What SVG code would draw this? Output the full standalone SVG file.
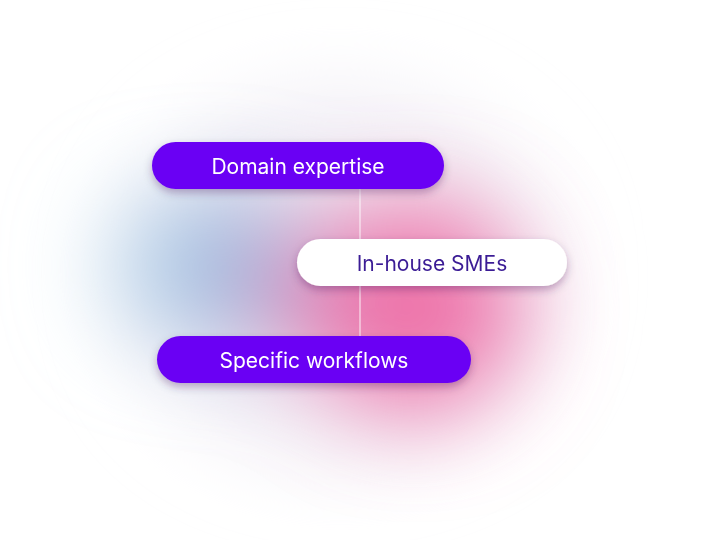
<svg xmlns="http://www.w3.org/2000/svg" width="720" height="540" viewBox="0 0 720 540">
<defs>
<filter id="blur" x="-100%" y="-100%" width="300%" height="300%">
<feGaussianBlur stdDeviation="48"/>
</filter>
<filter id="haze" x="-50%" y="-50%" width="200%" height="200%">
<feGaussianBlur stdDeviation="40"/>
</filter>
<filter id="shadow" x="-20%" y="-40%" width="140%" height="200%">
<feDropShadow dx="0" dy="4" stdDeviation="4" flood-color="#3a1050" flood-opacity="0.3"/>
</filter>
<style>
.pill{fill:#6a00f4}
.pillw{fill:#ffffff}
.t{font-family:"Inter","Liberation Sans",sans-serif;font-size:21px;font-weight:400;text-anchor:middle;dominant-baseline:central}
.tw{fill:#ffffff}
.td{fill:#3b1c95}
</style>
</defs>
<rect width="720" height="540" fill="#ffffff"/>
<g id="background">
<ellipse cx="340" cy="277" rx="215" ry="185" fill="#f1eef5" filter="url(#haze)"/>
<g filter="url(#blur)">
<circle cx="175" cy="265" r="70" fill="#c6e0f0"/>
<circle cx="230" cy="268" r="75" fill="#9fb9de"/>
<circle cx="320" cy="292" r="70" fill="#c88cc2" opacity="0.85"/>
<circle cx="415" cy="308" r="105" fill="#ee72a9"/>
</g>
</g>
<g id="connectors">
<line x1="360" y1="189" x2="360" y2="336" stroke="#ffffff" stroke-opacity="0.6" stroke-width="1.5"/>
</g>
<g id="node-domain" filter="url(#shadow)">
<rect class="pill" x="152" y="142" width="292" height="47" rx="23.5"/>
<text class="t tw" x="298" y="166">Domain expertise</text>
</g>
<g id="node-smes" filter="url(#shadow)">
<rect class="pillw" x="297" y="239" width="270" height="47" rx="23.5"/>
<text class="t td" x="432" y="263">In-house SMEs</text>
</g>
<g id="node-workflows" filter="url(#shadow)">
<rect class="pill" x="157" y="336" width="314" height="47" rx="23.5"/>
<text class="t tw" x="314" y="360">Specific workflows</text>
</g>
</svg>
